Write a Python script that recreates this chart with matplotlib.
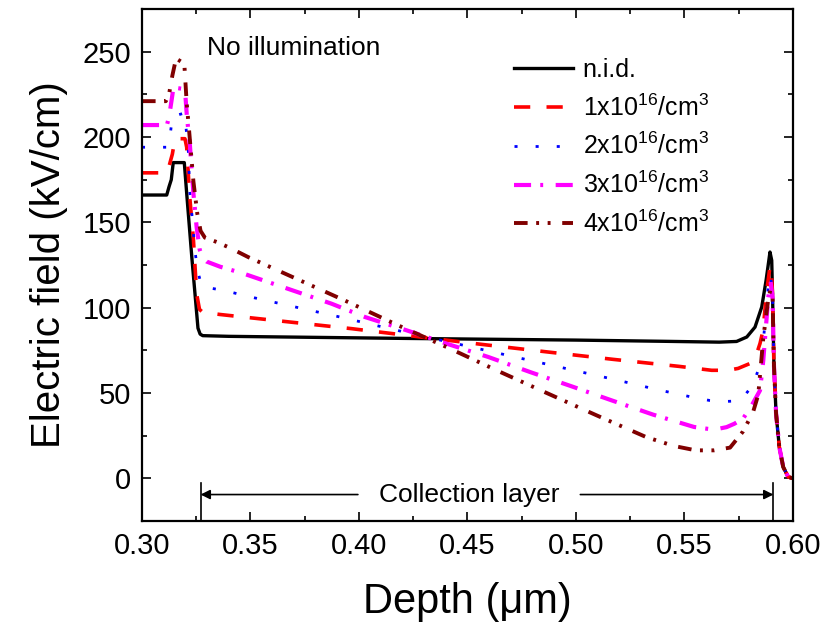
import matplotlib
matplotlib.use("Agg")
import matplotlib.pyplot as plt
from matplotlib.ticker import MultipleLocator

plt.rcParams["font.family"] = ["Liberation Sans", "DejaVu Sans"]
plt.rcParams["mathtext.fontset"] = "custom"
plt.rcParams["mathtext.rm"] = "Liberation Sans"
plt.rcParams["mathtext.it"] = "Liberation Sans:italic"
plt.rcParams["mathtext.bf"] = "Liberation Sans:bold"

# shared steep fall-off at the back contact
TAIL_X = [0.5906, 0.5912, 0.5922, 0.5937, 0.5955, 0.5978, 0.6000]
TAIL_Y = [106, 67, 38, 18.3, 6.6, 0.8, 0]

# n.i.d.
nid_x = [0.300, 0.3114, 0.3125, 0.3135, 0.3144, 0.3195, 0.3206, 0.3230, 0.3258,
         0.3268, 0.3280, 0.340, 0.380, 0.420, 0.460, 0.500, 0.540, 0.566, 0.574,
         0.5787, 0.5825, 0.5856, 0.5876, 0.5894, 0.5902] + TAIL_X
nid_y = [166, 166, 171, 175, 185, 185, 167, 129, 88,
         84.5, 83.6, 83.2, 82.6, 82.0, 81.5, 81.0, 80.3, 79.8, 80.2,
         82.8, 88.6, 100.4, 116, 132.6, 127.7] + TAIL_Y

# 1x10^16
d1_x = [0.300, 0.3110, 0.3125, 0.3140, 0.3152, 0.3198, 0.3206, 0.3220, 0.3237,
        0.3252, 0.3265, 0.3280, 0.3360, 0.3505, 0.3966, 0.4258, 0.4565, 0.4872,
        0.5172, 0.5475, 0.5625, 0.5700, 0.5747, 0.5802, 0.5830, 0.5848, 0.5862,
        0.5879, 0.5894, 0.5900] + TAIL_X
d1_y = [179, 179, 183, 190, 199, 199, 194, 165, 140,
        108, 99, 97.3, 96, 94, 87.7, 83.2, 78.5, 74.0,
        69.7, 65.6, 63.3, 63.3, 64.4, 67.3, 72, 79, 86.7,
        110, 124, 124] + TAIL_Y

# 2x10^16
d2_x = [0.300, 0.3115, 0.3130, 0.3140, 0.3195, 0.3205, 0.3214, 0.3220, 0.3229,
        0.3237, 0.3244, 0.3256, 0.3270, 0.3290, 0.3382, 0.3475, 0.3927, 0.4108,
        0.4289, 0.4470, 0.4653, 0.4834, 0.5014, 0.5195, 0.5374, 0.5556, 0.5617,
        0.5680, 0.5737, 0.5780, 0.5814, 0.5848, 0.5863, 0.5886, 0.5897] + TAIL_X
d2_y = [194, 194, 201, 212, 214, 203, 191, 168, 156,
        144, 133.5, 122, 115, 112, 110, 107, 94.1, 88.7,
        83.4, 78.3, 73.0, 67.8, 62.6, 57.4, 52.0, 47.0, 45.6,
        45.0, 45.3, 49, 54.5, 66.2, 80, 112, 119] + TAIL_Y

# 3x10^16
d3_x = [0.300, 0.3115, 0.3125, 0.3137, 0.3145, 0.3198, 0.3207, 0.3221, 0.3237,
        0.3252, 0.3266, 0.3280, 0.3298, 0.3360, 0.3467, 0.3874, 0.4028, 0.4220,
        0.4404, 0.4596, 0.4788, 0.4980, 0.5164, 0.5356, 0.5544, 0.5636, 0.5694,
        0.5730, 0.5770, 0.5810, 0.5848, 0.5863, 0.5886, 0.5897] + TAIL_X
d3_y = [207, 207, 212, 222, 229, 228, 212, 195, 167,
        147, 134, 129, 127, 124, 120, 102.3, 94.5, 86.7,
        78.9, 71.1, 62.3, 53.9, 45.7, 37.3, 30.1, 28.5, 30,
        32, 35, 42.8, 51.5, 69, 106, 115] + TAIL_Y

# 4x10^16
d4_x = [0.300, 0.3110, 0.3126, 0.3140, 0.3157, 0.3195, 0.3206, 0.3217, 0.3237,
        0.3255, 0.3270, 0.3290, 0.3344, 0.3406, 0.3490, 0.3950, 0.4181, 0.4404,
        0.4634, 0.4865, 0.5095, 0.5323, 0.5450, 0.5552, 0.5636, 0.5710, 0.5770,
        0.5816, 0.5840, 0.5863, 0.5885, 0.5895] + TAIL_X
d4_y = [221, 221, 226, 236, 246, 243, 220, 204, 174,
        155, 145, 141, 138.5, 135, 129.6, 103.3, 89.6, 76.9,
        63.3, 50.0, 36.9, 24.2, 19, 16.4, 16.4, 18, 27.5,
        38.8, 49, 82, 104, 110] + TAIL_Y

labels = ["n.i.d.",
          "1x10$^{16}$/cm$^3$",
          "2x10$^{16}$/cm$^3$",
          "3x10$^{16}$/cm$^3$",
          "4x10$^{16}$/cm$^3$"]

fig = plt.figure(figsize=(8.25, 6.29), dpi=100)
ax = fig.add_axes([0.1721, 0.1717, 0.7891, 0.814])

ax.plot(nid_x, nid_y, color="black", lw=2.4, label=labels[0])
ax.plot(d1_x, d1_y, color="#FF0000", lw=2.6, dashes=(4.5, 4.5), label=labels[1])
ax.plot(d2_x, d2_y, color="#0000FF", lw=2.0, dashes=(1.1, 6.5), label=labels[2])
ax.plot(d3_x, d3_y, color="#FF00FF", lw=3.0, dashes=(4.1, 2.2, 0.7, 3.0), label=labels[3])
ax.plot(d4_x, d4_y, color="#800000", lw=2.8,
        dashes=(3.5, 2.2, 0.75, 2.2, 0.75, 3.0), label=labels[4])

ax.set_xlim(0.30, 0.60)
ax.set_ylim(-25, 275)
ax.xaxis.set_major_locator(MultipleLocator(0.05))
ax.xaxis.set_minor_locator(MultipleLocator(0.025))
ax.yaxis.set_major_locator(MultipleLocator(50))
ax.yaxis.set_minor_locator(MultipleLocator(25))
ax.xaxis.set_major_formatter(lambda v, p: f"{v:.2f}")
ax.tick_params(which="both", direction="in", top=True, right=True, width=1.2)
ax.tick_params(which="major", length=6.5, labelsize=21, pad=8)
ax.tick_params(which="minor", length=3.5)
for s in ax.spines.values():
    s.set_linewidth(1.6)

ax.set_xlabel("Depth (\u03bcm)", fontsize=30, labelpad=16)
ax.set_ylabel("Electric field (kV/cm)", fontsize=29, labelpad=10)

ax.text(0.330, 252, "No illumination", fontsize=19, ha="left", va="center")

# collection layer marker
y_arr = -9.5
ax.plot([0.327, 0.327], [-25, -2.5], color="black", lw=1.2)
ax.plot([0.591, 0.591], [-25, -2.5], color="black", lw=1.2)
ax.annotate("", xy=(0.327, y_arr), xytext=(0.3995, y_arr),
            arrowprops=dict(arrowstyle="-|>", color="black", lw=1.2,
                            mutation_scale=14, shrinkA=0, shrinkB=0))
ax.annotate("", xy=(0.591, y_arr), xytext=(0.502, y_arr),
            arrowprops=dict(arrowstyle="-|>", color="black", lw=1.2,
                            mutation_scale=14, shrinkA=0, shrinkB=0))
ax.text(0.4508, y_arr, "Collection layer", fontsize=19, ha="center", va="center")

ax.legend(loc="upper left", bbox_to_anchor=(0.571, 0.905), frameon=False,
          fontsize=18, handlelength=2.36, handletextpad=0.4, labelspacing=0.5,
          borderpad=0, borderaxespad=0)

fig.savefig("out.png", dpi=100)
